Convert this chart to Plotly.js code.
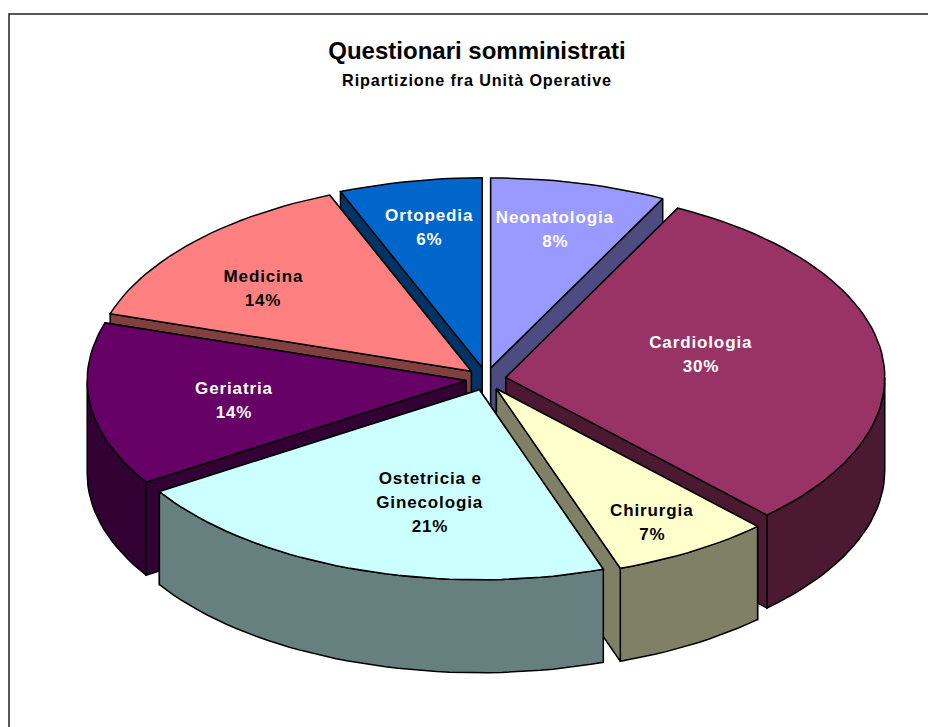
<!DOCTYPE html>
<html>
<head>
<meta charset="utf-8">
<script src="https://cdn.plot.ly/plotly-3.0.1.min.js"></script>
<style>
html,body{margin:0;padding:0;background:#fff;overflow:hidden}
#chart{width:928px;height:727px}
#chart .annotation-text{letter-spacing:0.87px}
</style>
</head>
<body>
<div id="chart"></div>
<script>
// Data
const categories = ['Neonatologia','Cardiologia','Chirurgia','Ostetricia e<br>Ginecologia','Geriatria','Medicina','Ortopedia'];
const values = [7.5,30.4,6.8,21.3,13.9,14.0,6.1];
const percentLabels = ['8%','30%','7%','21%','14%','14%','6%'];

// Styles
const topColors = ['#9999FF','#993366','#FFFFCC','#CCFFFF','#660066','#FF8080','#0066CC'];
const sideColors = ['#4C4C80','#4C1933','#808066','#668080','#330033','#804040','#003366'];
const textColors = ['#fff','#fff','#000','#000','#fff','#000','#fff'];
const labelX = [555,701,652,430,234,263,429];
const labelY = [229,354,522,502,400,288,227];
const labelLineGap = 24;
const fontFamily = '"Liberation Sans",Arial,sans-serif';

// Projection of the tilted pie on the pixel-sized axes
const cx=486, cy=379, rx=379, ry=190, depth=93, explodeX=20, explodeY=11.4;
const rad=d=>d*Math.PI/180;
const total=values.reduce((a,b)=>a+b,0);
const traces=[];
function poly(xs,ys,color,name){
  traces.push({type:'scatter',mode:'lines',x:xs.concat(xs[0]),y:ys.concat(ys[0]),fill:'toself',fillcolor:color,
    line:{color:'#000',width:1.5},name:name,hoverinfo:'name',showlegend:false});
}
let acc=0;
const slices=values.map((v,i)=>{
  const a0=acc/total*360; acc+=v; const a1=acc/total*360; const m=(a0+a1)/2;
  return {i,a0,a1,m,ax:cx+explodeX*Math.sin(rad(m)),ay:cy-explodeY*Math.cos(rad(m))};
});
slices.slice().sort((p,q)=>Math.cos(rad(q.m))-Math.cos(rad(p.m))).forEach(s=>{
  const px=t=>s.ax+rx*Math.sin(rad(t)), py=t=>s.ay-ry*Math.cos(rad(t));
  const name=categories[s.i].replace('<br>',' ');
  const wall=t=>({normal:0,xs:[s.ax,px(t),px(t),s.ax],ys:[s.ay,py(t),py(t)+depth,s.ay+depth]});
  const w0=wall(s.a0); w0.normal=Math.cos(rad(s.a0-90));
  const w1=wall(s.a1); w1.normal=Math.cos(rad(s.a1+90));
  const back=[w0,w1].filter(w=>w.normal>0), front=[w0,w1].filter(w=>w.normal<=0);
  back.forEach(w=>poly(w.xs,w.ys,sideColors[s.i],name));
  const lo=Math.max(s.a0,90), hi=Math.min(s.a1,270);
  if(hi>lo){
    const xs=[],ys=[];
    const n=Math.ceil((hi-lo)/2);
    for(let k=0;k<=n;k++){const t=lo+(hi-lo)*k/n;xs.push(px(t));ys.push(py(t));}
    for(let k=n;k>=0;k--){const t=lo+(hi-lo)*k/n;xs.push(px(t));ys.push(py(t)+depth);}
    poly(xs,ys,sideColors[s.i],name);
  }
  front.forEach(w=>poly(w.xs,w.ys,sideColors[s.i],name));
  const xs=[s.ax],ys=[s.ay];
  const n=Math.ceil((s.a1-s.a0)/2);
  for(let k=0;k<=n;k++){const t=s.a0+(s.a1-s.a0)*k/n;xs.push(px(t));ys.push(py(t));}
  poly(xs,ys,topColors[s.i],name);
});

const annotations=[];
categories.forEach((c,i)=>{
  const lines=c.split('<br>').concat(percentLabels[i]);
  lines.forEach((t,k)=>annotations.push({
    x:labelX[i],y:labelY[i]+(k-(lines.length-1)/2)*labelLineGap,xref:'x',yref:'y',showarrow:false,
    xanchor:'center',yanchor:'middle',text:'<b>'+t+'</b>',
    font:{family:fontFamily,size:17,color:textColors[i]}
  }));
});
annotations.push({x:477,y:80,xref:'x',yref:'y',showarrow:false,xanchor:'center',yanchor:'middle',
  text:'<b>Ripartizione fra Unità Operative</b>',font:{family:fontFamily,size:16.2,color:'#000'}});

const layout={
  width:928,height:727,margin:{l:0,r:0,t:0,b:0},paper_bgcolor:'#fff',plot_bgcolor:'#fff',showlegend:false,
  xaxis:{range:[0,928],visible:false,fixedrange:true},
  yaxis:{range:[727,0],visible:false,fixedrange:true},
  title:{text:'<b>Questionari somministrati</b>',x:0.514,xanchor:'center',y:0.93,yanchor:'middle',
    font:{family:fontFamily,size:24,color:'#000'}},
  shapes:[{type:'path',xref:'x',yref:'y',path:'M 9 727 L 9 14 L 928 14',line:{color:'#222',width:1.5},layer:'below'}],
  annotations
};
Plotly.newPlot('chart',traces,layout,{displayModeBar:false,staticPlot:true});
</script>
</body>
</html>
